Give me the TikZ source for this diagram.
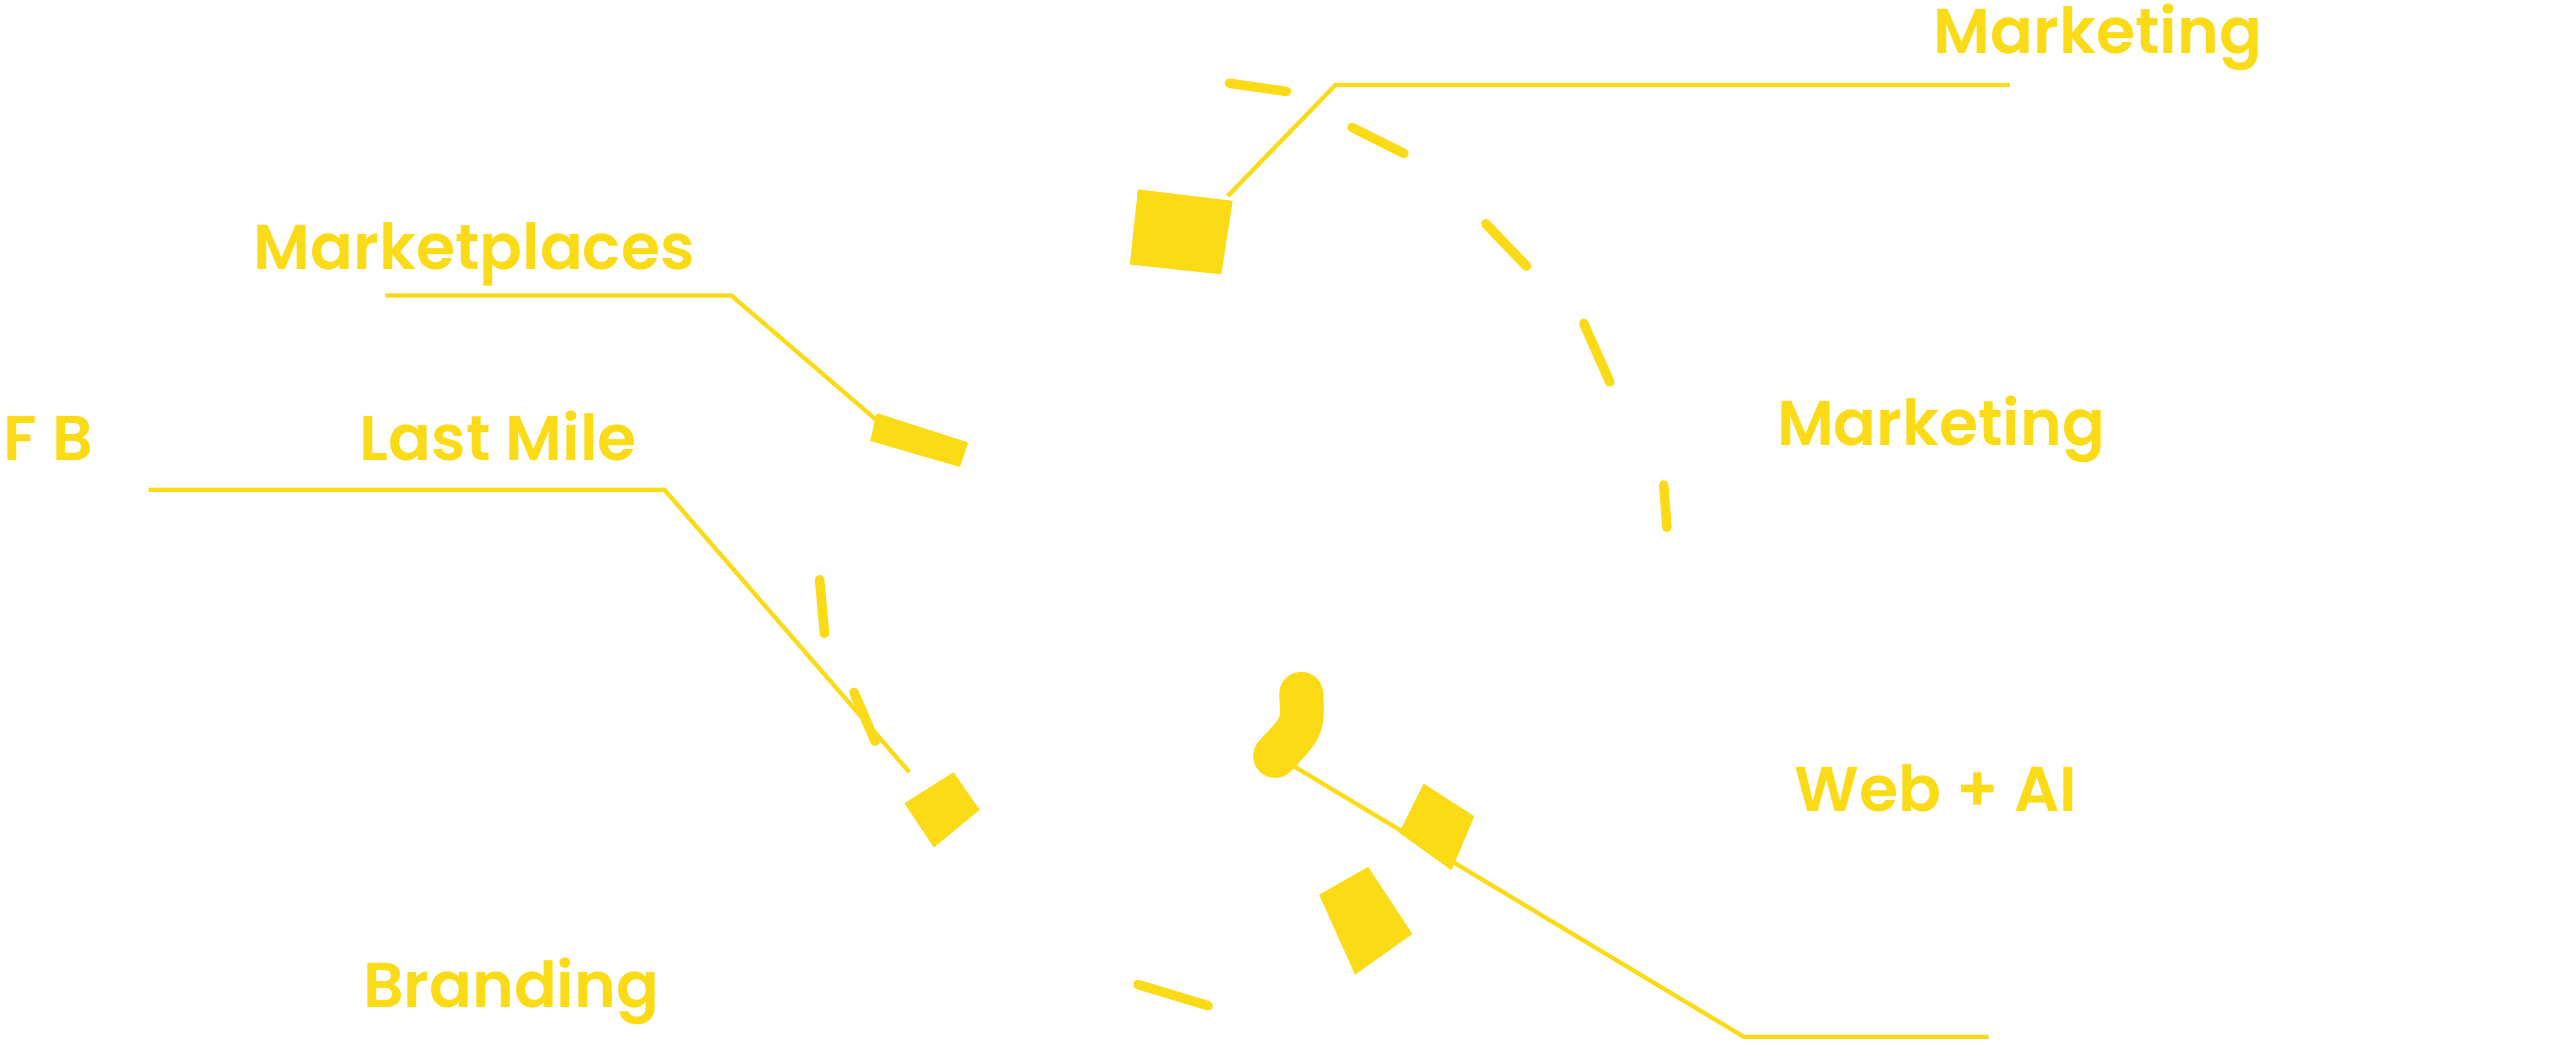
\documentclass[tikz,border=0pt]{standalone}
\usepackage{fontspec}
\setmainfont{Poppins}[BoldFont={* SemiBold}]
\definecolor{ylw}{RGB}{251,218,22}
\begin{document}
\begin{tikzpicture}[x=0.01633cm,y=-0.01633cm,
  lbl/.style={text=ylw,font=\fontsize{18}{20}\selectfont\bfseries,inner sep=0pt,anchor=base west},
  ghost/.style={text=white,font=\fontsize{18}{20}\selectfont\bfseries,inner sep=0pt,anchor=base west},
  conn/.style={draw=ylw,line width=1.2pt},
  dsh/.style={draw=ylw,line width=2.7pt,line cap=round},
  blk/.style={fill=ylw,draw=none}]
\useasboundingbox (0,0) rectangle (1568,644);
\fill[white] (0,0) rectangle (1568,644);
% labels
\node[lbl] (mk1) at (1184,33) {Marketing};
\node[lbl] (mkp) at (155,165) {Marketplaces};
\node[lbl] (fb) at (2,282) {F B};
\node[lbl] (lm) at (220,282) {Last Mile};
\node[lbl] (mk2) at (1088,273) {Marketing};
\node[lbl] (web) at (1099,497) {Web + AI};
\node[lbl] (br) at (222,617) {Branding};
\node[ghost] (g1) at (915,33) {Performance};
\node[ghost] (g2) at (1086,228) {Mail \& WhatsApp};
\node[ghost] (g3) at (1100,540) {Development};
% blocks
\fill[blk] (697,116) -- (755,123) -- (748,168) -- (692,162) -- cycle;
\fill[blk] (537,253) -- (593,271) -- (588,286) -- (533,270) -- cycle;
\fill[blk] (554,492) -- (584,473) -- (600,496) -- (572,519) -- cycle;
\fill[blk] (808,548) -- (838,531) -- (865,572) -- (830,597) -- cycle;
\fill[blk] (857,510) -- (872,480) -- (903,500) -- (889,533) -- cycle;
\draw[ylw,line width=12.5pt,line cap=round] (797,425) .. controls (798,445) .. (781,463);
% dashes of the ring
\foreach \p/\q in {{(753,51)}/{(788,56)},{(828,78)}/{(860,94)},{(910,137)}/{(935,163)},
  {(970,198)}/{(986,234)},{(1019,297)}/{(1021,323)},{(502,355)}/{(505,388)},
  {(523,424)}/{(536,454)},{(697,603)}/{(740,616)}}
  \draw[dsh] \p -- \q;
% connector coordinates
\coordinate (a0) at (752,120); \coordinate (a1) at (818,52); \coordinate (a2) at (1231,52);
\coordinate (b0) at (236,181); \coordinate (b1) at (448,181); \coordinate (b2) at (540,260);
\coordinate (c0) at (91,300); \coordinate (c1) at (407,300); \coordinate (c2) at (557,473);
\coordinate (d0) at (782,463); \coordinate (d1) at (1068,635); \coordinate (d2) at (1218,635);
\draw[conn] (a0) -- (a1) -- (a2);
\draw[conn] (b0) -- (b1) -- (b2);
\draw[conn] (c0) -- (c1) -- (c2);
\draw[conn] (d0) -- (d1) -- (d2);
\end{tikzpicture}
\end{document}
